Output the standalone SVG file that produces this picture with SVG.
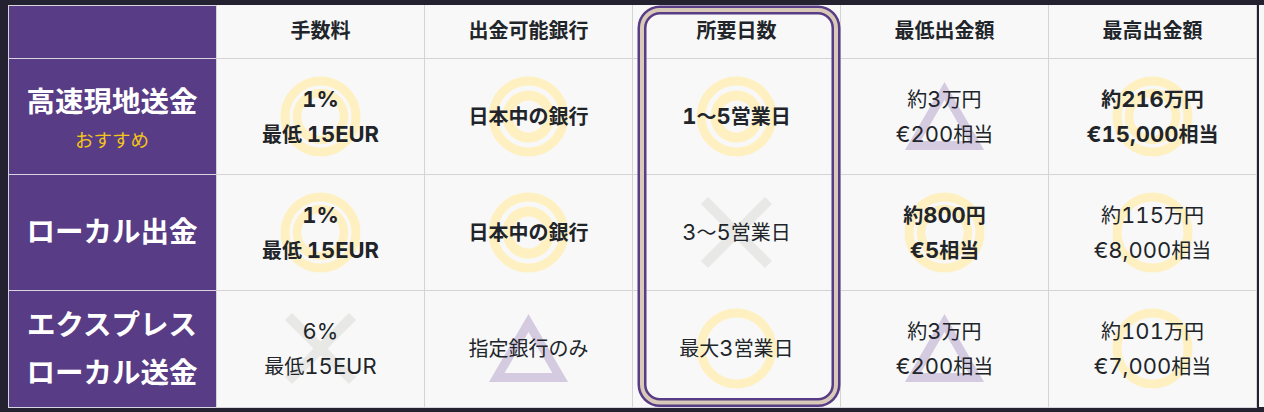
<svg xmlns="http://www.w3.org/2000/svg" width="1264" height="412" viewBox="0 0 1264 412">
<style>
text{font-family:"Inter","Noto Sans CJK JP",sans-serif;text-anchor:middle;fill:#212529;font-size:20px}
.n{font-size:22px;font-variant-numeric:tabular-nums}
.b{font-weight:700}
.r{font-weight:700;font-size:28.500px;fill:#fff;font-family:"Noto Sans CJK JP",sans-serif}
.g{fill:none;stroke:#fff0c2;stroke-width:9}
.t{fill:none;stroke:#d5cbe1;stroke-width:9}
.x{stroke:#e8e8e6;stroke-width:10;fill:none}
.l{stroke:#d4d4d4;stroke-width:1;fill:none}
</style>
<defs>
<g id="dbl"><circle class="g" r="35.500"/><circle class="g" r="21" style="stroke-width:10"/></g>
<g id="dbl2"><circle class="g" r="35.500"/><circle class="g" r="23.500" style="stroke-width:8.500"/></g>
<g id="sgl"><circle class="g" r="35.500"/></g>
<path id="tri" class="t" d="M0 -25.500L31.700 29H-31.700Z"/>
<path id="cross" class="x" d="M-32 -32L32 32M32 -32L-32 32"/>
</defs>
<rect width="1264" height="412" fill="#242130"/>
<rect x="8" y="5" width="1249" height="402" fill="#f8f8f8"/>
<rect x="8" y="5" width="208" height="402" fill="#583c85"/>
<rect x="1259" y="5" width="5" height="402" fill="#f8f8f8"/>
<g id="grid">
<path class="l" d="M216.500 5V407M424.500 5V407M632.500 5V407M840.500 5V407M1048.500 5V407M216 58.500H1257M216 174.500H1257M216 290.500H1257"/>
<path d="M8.500 5.500H216M8 58.500H216M8 174.500H216M8 290.500H216M8.500 5V407M8 407.500H1257" stroke="#d8d4e0" fill="none"/>
<path d="M1256.500 5V407" stroke="#d4d4d4" fill="none"/>
</g>
<g id="marks">
<use href="#dbl2" x="320.500" y="116.500"/>
<use href="#dbl" x="528.500" y="116.500"/>
<use href="#dbl" x="736.500" y="116.500"/>
<use href="#tri" x="944.500" y="116.500"/>
<use href="#dbl2" x="1152.500" y="116.500"/>
<use href="#dbl2" x="320.500" y="232.500"/>
<use href="#dbl" x="528.500" y="232.500"/>
<use href="#cross" x="736.500" y="232.500"/>
<use href="#dbl2" x="944.500" y="232.500"/>
<use href="#sgl" x="1152.500" y="232.500"/>
<use href="#cross" x="320.500" y="348.500"/>
<use href="#tri" x="528.500" y="348.500"/>
<use href="#sgl" x="736.500" y="348.500"/>
<use href="#tri" x="944.500" y="348.500"/>
<use href="#sgl" x="1152.500" y="348.500"/>
</g>
<g id="head-row">
<text class="b" x="320.500" y="38">手数料</text>
<text class="b" x="528.500" y="38">出金可能銀行</text>
<text class="b" x="736.500" y="38">所要日数</text>
<text class="b" x="944.500" y="38">最低出金額</text>
<text class="b" x="1152.500" y="38">最高出金額</text>
</g>
<g id="row-1">
<text class="r" x="112" y="112">高速現地送金</text>
<text x="112" y="147" style="fill:#f5c518;font-size:18.500px">おすすめ</text>
<text class="b" x="320.500" y="107"><tspan class="n">1%</tspan></text>
<text class="b" x="320.500" y="142">最低 <tspan class="n">15EUR</tspan></text>
<text class="b" x="528.500" y="124">日本中の銀行</text>
<text class="b" x="736.500" y="124"><tspan class="n">1</tspan>〜<tspan class="n">5</tspan>営業日</text>
<text x="944.500" y="107">約<tspan class="n">3</tspan>万円</text>
<text x="944.500" y="142"><tspan class="n">€200</tspan>相当</text>
<text class="b" x="1152.500" y="107">約<tspan class="n">216</tspan>万円</text>
<text class="b" x="1152.500" y="142"><tspan class="n">€15,000</tspan>相当</text>
</g>
<g id="row-2">
<text class="r" x="112" y="242">ローカル出金</text>
<text class="b" x="320.500" y="223"><tspan class="n">1%</tspan></text>
<text class="b" x="320.500" y="258">最低 <tspan class="n">15EUR</tspan></text>
<text class="b" x="528.500" y="240">日本中の銀行</text>
<text x="736.500" y="240"><tspan class="n">3</tspan>〜<tspan class="n">5</tspan>営業日</text>
<text class="b" x="944.500" y="223">約<tspan class="n">800</tspan>円</text>
<text class="b" x="944.500" y="258"><tspan class="n">€5</tspan>相当</text>
<text x="1152.500" y="223">約<tspan class="n">115</tspan>万円</text>
<text x="1152.500" y="258"><tspan class="n">€8,000</tspan>相当</text>
</g>
<g id="row-3">
<text class="r" x="112" y="335">エクスプレス</text>
<text class="r" x="112" y="383">ローカル送金</text>
<text x="320.500" y="339"><tspan class="n">6%</tspan></text>
<text x="320.500" y="374">最低<tspan class="n">15EUR</tspan></text>
<text x="528.500" y="356">指定銀行のみ</text>
<text x="736.500" y="356">最大<tspan class="n">3</tspan>営業日</text>
<text x="944.500" y="339">約<tspan class="n">3</tspan>万円</text>
<text x="944.500" y="374"><tspan class="n">€200</tspan>相当</text>
<text x="1152.500" y="339">約<tspan class="n">101</tspan>万円</text>
<text x="1152.500" y="374"><tspan class="n">€7,000</tspan>相当</text>
</g>
<g id="highlight">
<rect x="642" y="10" width="194" height="392.500" rx="18" fill="none" stroke="#583c85" stroke-width="9"/>
<rect x="642" y="10" width="194" height="392.500" rx="18" fill="none" stroke="#d8c9b8" stroke-width="4"/>
</g>
</svg>
